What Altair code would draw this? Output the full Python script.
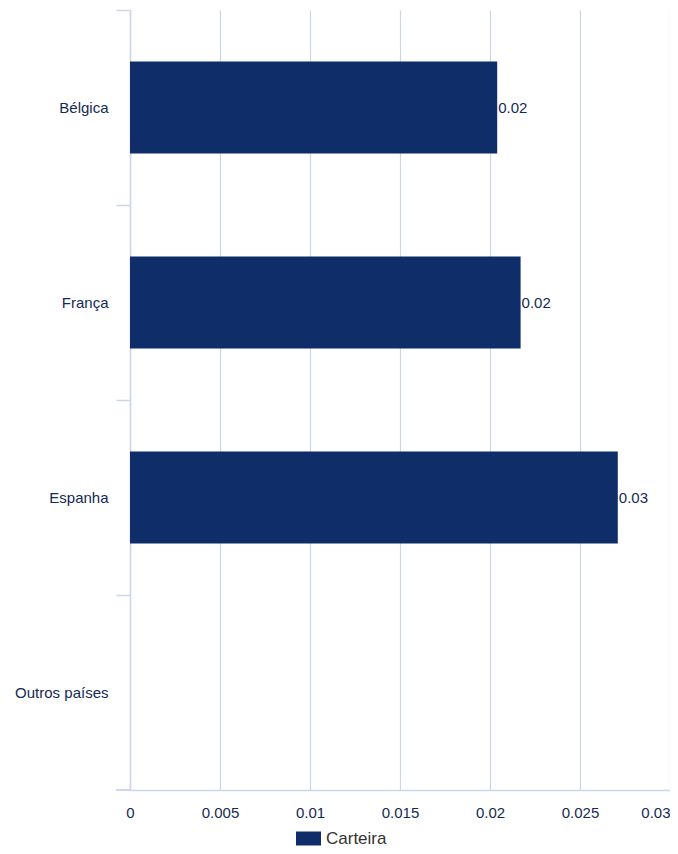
import altair as alt
import pandas as pd

categories = ["Bélgica", "França", "Espanha", "Outros países"]
values = [0.0204, 0.0217, 0.0271, None]
series_name = "Carteira"
x_ticks = [0, 0.005, 0.01, 0.015, 0.02, 0.025, 0.03]

df = pd.DataFrame({"country": categories, "value": values, "series": [series_name] * len(categories)})

FONT = "Liberation Sans"
NAVY = "#0f2d69"
TEXT = "#142a56"
GRID = "#ccd6eb"
W, H = 540, 780

y_enc = alt.Y("country:N", sort=categories, title=None,
              scale=alt.Scale(paddingInner=0, paddingOuter=0),
              axis=alt.Axis(bandPosition=0, tickSize=14, tickColor=GRID, domainColor=GRID,
                            domainWidth=1.5, tickWidth=1.5, labelPadding=8, labelFontSize=15,
                            labelColor=TEXT, labelFont=FONT, grid=False))
x_enc = alt.X("value:Q", title=None, scale=alt.Scale(domain=[0, 0.03], nice=False),
              axis=alt.Axis(values=x_ticks, format="~g", ticks=False, grid=True, gridColor=GRID,
                            gridWidth=1.2, domainColor=GRID, domainWidth=1.5, labelPadding=15,
                            labelFontSize=15, labelColor=TEXT, labelFont=FONT,
                            labelAlign={"condition": {"test": "datum.value >= 0.03", "value": "right"},
                                        "value": "center"}))

bars = alt.Chart(df).mark_bar(size=92, color=NAVY).encode(
    y=y_enc, x=x_enc,
    color=alt.Color("series:N", scale=alt.Scale(range=[NAVY]),
                    legend=alt.Legend(title=None, orient="none", legendX=166, legendY=816,
                                      symbolType="M-1,-0.56H1V0.56H-1Z", symbolSize=625,
                                      symbolStrokeWidth=0, labelFontSize=17, labelColor="#333333",
                                      labelFont=FONT, labelOffset=5)),
)

labels = alt.Chart(df).transform_filter("datum.value != null").mark_text(
    align="left", baseline="middle", dx=1, fontSize=15, font=FONT, color=TEXT
).encode(y=alt.Y("country:N", sort=categories), x=alt.X("value:Q"), text=alt.Text("value:Q", format=".2f"))

bottom_tick = alt.Chart(df).mark_rule(color=GRID, strokeWidth=1.5).encode(
    x=alt.value(-14), x2=alt.value(0), y=alt.value(H))

chart = alt.layer(bars, labels, bottom_tick).properties(
    width=W, height=H,
    autosize=alt.AutoSizeParams(type="none"),
    padding={"left": 122, "top": 2, "right": 0, "bottom": 56},
).configure_view(stroke=None)

chart.save("out.html", embed_options={"renderer": "svg", "actions": False})
